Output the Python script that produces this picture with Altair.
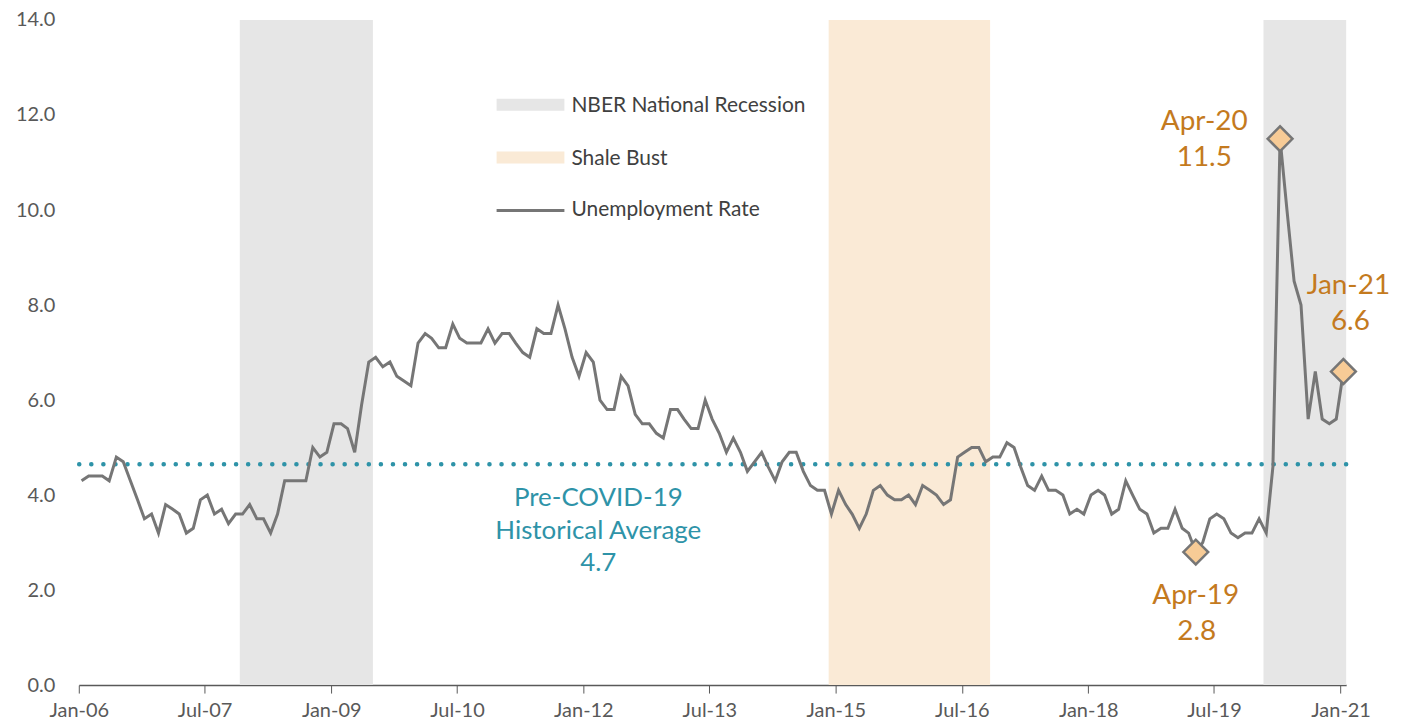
import altair as alt
import pandas as pd

# ---------------- data ----------------
rate_2006 = [4.3, 4.4, 4.4, 4.4, 4.3, 4.8, 4.7, 4.3, 3.9, 3.5, 3.6, 3.2]
rate_2007 = [3.8, 3.7, 3.6, 3.2, 3.3, 3.9, 4.0, 3.6, 3.7, 3.4, 3.6, 3.6]
rate_2008 = [3.8, 3.5, 3.5, 3.2, 3.6, 4.3, 4.3, 4.3, 4.3, 5.0, 4.8, 4.9]
rate_2009 = [5.5, 5.5, 5.4, 4.9, 5.9, 6.8, 6.9, 6.7, 6.8, 6.5, 6.4, 6.3]
rate_2010 = [7.2, 7.4, 7.3, 7.1, 7.1, 7.6, 7.3, 7.2, 7.2, 7.2, 7.5, 7.2]
rate_2011 = [7.4, 7.4, 7.2, 7.0, 6.9, 7.5, 7.4, 7.4, 8.0, 7.5, 6.9, 6.5]
rate_2012 = [7.0, 6.8, 6.0, 5.8, 5.8, 6.5, 6.3, 5.7, 5.5, 5.5, 5.3, 5.2]
rate_2013 = [5.8, 5.8, 5.6, 5.4, 5.4, 6.0, 5.6, 5.3, 4.9, 5.2, 4.9, 4.5]
rate_2014 = [4.7, 4.9, 4.6, 4.3, 4.7, 4.9, 4.9, 4.5, 4.2, 4.1, 4.1, 3.6]
rate_2015 = [4.1, 3.8, 3.6, 3.3, 3.6, 4.1, 4.2, 4.0, 3.9, 3.9, 4.0, 3.8]
rate_2016 = [4.2, 4.1, 4.0, 3.8, 3.9, 4.8, 4.9, 5.0, 5.0, 4.7, 4.8, 4.8]
rate_2017 = [5.1, 5.0, 4.6, 4.2, 4.1, 4.4, 4.1, 4.1, 4.0, 3.6, 3.7, 3.6]
rate_2018 = [4.0, 4.1, 4.0, 3.6, 3.7, 4.3, 4.0, 3.7, 3.6, 3.2, 3.3, 3.3]
rate_2019 = [3.7, 3.3, 3.2, 2.8, 3.0, 3.5, 3.6, 3.5, 3.2, 3.1, 3.2, 3.2]
rate_2020 = [3.5, 3.2, 4.6, 11.5, 10.0, 8.5, 8.0, 5.6, 6.6, 5.6, 5.5, 5.6]
rate_2021 = [6.6]

hist_avg_value = 4.65
hist_avg_label = ["Pre-COVID-19", "Historical Average", "4.7"]

band_names = ["NBER National Recession", "Shale Bust", "NBER National Recession"]
band_starts = ["2007-12-01T00:00:00", "2014-12-01T00:00:00", "2020-02-01T00:00:00"]
band_ends = ["2009-07-01T00:00:00", "2016-11-01T00:00:00", "2021-01-25T00:00:00"]

marker_dates = ["2019-04-13T00:00:00", "2020-04-13T00:00:00", "2021-01-13T00:00:00"]
marker_values = [2.8, 11.5, 6.6]
marker_labels = ["Apr-19", "Apr-20", "Jan-21"]

tick_years = [2006, 2007, 2009, 2010, 2012, 2013, 2015, 2016, 2018, 2019, 2021]
tick_months = [1, 7, 1, 7, 1, 7, 1, 7, 1, 7, 1]
y_ticks = [0, 2, 4, 6, 8, 10, 12, 14]

# ---------------- tables ----------------
values = (rate_2006 + rate_2007 + rate_2008 + rate_2009 + rate_2010 + rate_2011 +
          rate_2012 + rate_2013 + rate_2014 + rate_2015 + rate_2016 + rate_2017 +
          rate_2018 + rate_2019 + rate_2020 + rate_2021)
month_starts = pd.date_range("2006-01-01", periods=len(values), freq="MS")
dates = [(d + pd.Timedelta(days=12)).strftime("%Y-%m-%dT00:00:00") for d in month_starts]
line_df = pd.DataFrame({"date": dates, "rate": values})

band_df = pd.DataFrame({"name": band_names, "start": band_starts, "end": band_ends})
marker_df = pd.DataFrame({"date": marker_dates, "rate": marker_values, "label": marker_labels})
avg_df = pd.DataFrame({"avg": [hist_avg_value]})
one = pd.DataFrame({"k": [0]})

FONT = "Lato"
GREY_LINE = "#767676"
ORANGE_TXT = "#C47A1E"
TEAL = "#2E93A8"
TXT = "#595959"

x_scale = alt.Scale(domain=[alt.DateTime(year=2006, month=1, date=1),
                            alt.DateTime(year=2021, month=1, date=25)])
y_scale = alt.Scale(domain=[0, 14], nice=False)

x_axis = alt.Axis(values=[alt.DateTime(year=y, month=m, date=1) for y, m in zip(tick_years, tick_months)],
                  format="%b-%y", title=None, grid=False, labelFont=FONT, labelFontSize=20,
                  labelColor=TXT, tickSize=8, tickColor=TXT, domainColor=TXT, domainWidth=1.5,
                  labelPadding=8, labelFlush=False, labelOverlap=False)
y_axis = alt.Axis(values=y_ticks, format=".1f", title=None, grid=False, domain=False, ticks=False,
                  labelFont=FONT, labelFontSize=20, labelColor=TXT, labelPadding=24)

bands = alt.Chart(band_df).mark_rect().encode(
    x=alt.X("start:T", scale=x_scale, axis=x_axis),
    x2="end:T",
    color=alt.Color("name:N", legend=None,
                    scale=alt.Scale(domain=["NBER National Recession", "Shale Bust"],
                                    range=["#E6E6E6", "#FAEAD6"])),
)

avg_rule = alt.Chart(avg_df).mark_rule(color=TEAL, strokeWidth=4.5, strokeDash=[0.1, 12],
                                       strokeCap="round").encode(
    y=alt.Y("avg:Q", scale=y_scale, axis=y_axis)
)

line = alt.Chart(line_df).mark_line(color=GREY_LINE, strokeWidth=3).encode(
    x=alt.X("date:T", scale=x_scale, axis=x_axis),
    y=alt.Y("rate:Q", scale=y_scale, axis=y_axis),
)

markers = alt.Chart(marker_df).mark_point(shape="diamond", filled=True, size=620, fill="#F7CB96",
                                          stroke=GREY_LINE, strokeWidth=2.5, opacity=1).encode(
    x="date:T", y="rate:Q"
)

def label(idx, text, dx, dy):
    d = marker_df.iloc[[idx]].copy()
    d["t"] = text
    return alt.Chart(d).mark_text(font=FONT, fontSize=28, color=ORANGE_TXT, align="center",
                                  baseline="middle", dx=dx, dy=dy).encode(
        x="date:T", y="rate:Q", text="t:N")

ann = [
    label(1, "Apr-20", -76, -17), label(1, "11.5", -76, 19),
    label(2, "Jan-21", 5, -86), label(2, "6.6", 7, -50),
    label(0, "Apr-19", 0, 44), label(0, "2.8", 1, 80),
]

avg_texts = []
for i, (t, dy) in enumerate(zip(hist_avg_label, [34, 67, 99])):
    d = avg_df.copy()
    d["t"] = t
    avg_texts.append(alt.Chart(d).mark_text(font=FONT, fontSize=26, color=TEAL, align="center",
                                            baseline="middle", dy=dy).encode(
        x=alt.value(521), y="avg:Q", text="t:N"))

# legend
leg = [
    alt.Chart(one).mark_rect(color="#E6E6E6").encode(
        x=alt.value(419), x2=alt.value(487), y=alt.value(79), y2=alt.value(91)),
    alt.Chart(one).mark_rect(color="#FAEAD6").encode(
        x=alt.value(419), x2=alt.value(487), y=alt.value(132), y2=alt.value(144)),
    alt.Chart(one).mark_rule(color=GREY_LINE, strokeWidth=3).encode(
        x=alt.value(419), x2=alt.value(487), y=alt.value(191)),
]
for t, yy in zip(["NBER National Recession", "Shale Bust", "Unemployment Rate"], [86, 139, 191]):
    leg.append(alt.Chart(one).mark_text(text=t, font=FONT, fontSize=21, color="#404040",
                                        align="left", baseline="middle").encode(
        x=alt.value(494), y=alt.value(yy)))

chart = alt.layer(bands, avg_rule, line, markers, *ann, *avg_texts, *leg).properties(
    width=1271, height=667,
    autosize=alt.AutoSizeParams(type="none"),
    padding={"left": 71, "top": 11, "right": 56, "bottom": 40},
    background="white",
).configure_view(stroke=None)

chart.save("out.html", embed_options={"renderer": "svg", "actions": False})
